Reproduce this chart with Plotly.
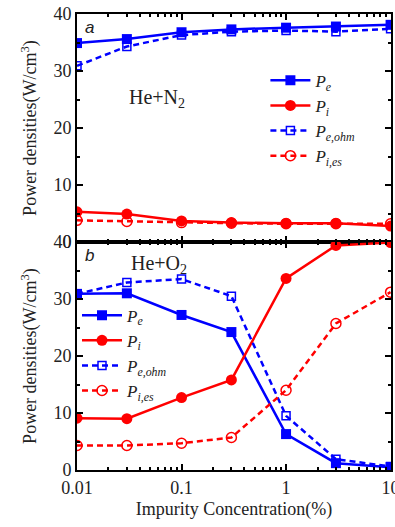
import plotly.graph_objects as go
from plotly.subplots import make_subplots

conc = [0.01, 0.03, 0.1, 0.3, 1, 3, 10]

# Panel a: He+N2
a_Pe = [34.9, 35.6, 36.8, 37.3, 37.6, 37.8, 38.1]
a_Pi = [5.3, 4.9, 3.7, 3.4, 3.3, 3.3, 2.8]
a_Pe_ohm = [30.9, 34.3, 36.3, 36.9, 37.1, 36.9, 37.4]
a_Pi_es = [3.8, 3.6, 3.4, 3.3, 3.2, 3.2, 3.2]

# Panel b: He+O2
b_Pe = [30.9, 31.0, 27.2, 24.2, 6.3, 1.2, 0.5]
b_Pi = [9.1, 9.0, 12.7, 15.8, 33.6, 39.4, 39.9]
b_Pe_ohm = [30.9, 32.9, 33.5, 30.5, 9.5, 1.9, 0.6]
b_Pi_es = [4.3, 4.3, 4.7, 5.7, 14.0, 25.7, 31.2]

x_tickvals = [0.01, 0.1, 1, 10]
x_ticktext = ["0.01", "0.1", "1", "10"]
y_tickvals = [0, 10, 20, 30, 40]

names = ["<i>P</i><sub><i>e</i></sub>", "<i>P</i><sub><i>i</i></sub>",
         "<i>P</i><sub><i>e,ohm</i></sub>", "<i>P</i><sub><i>i,es</i></sub>"]

BLUE = "#0000ff"
RED = "#ff0000"
DASH = "6px,4px"

fig = make_subplots(rows=2, cols=1, shared_xaxes=True, vertical_spacing=0)

def add_panel(row, pe, pi, peo, pie, legend):
    fig.add_trace(go.Scatter(x=conc, y=pe, mode="lines+markers", name=names[0],
                             line=dict(color=BLUE, width=2.5),
                             marker=dict(symbol="square", size=10, color=BLUE),
                             legend=legend), row=row, col=1)
    fig.add_trace(go.Scatter(x=conc, y=pi, mode="lines+markers", name=names[1],
                             line=dict(color=RED, width=2.5),
                             marker=dict(symbol="circle", size=11, color=RED),
                             legend=legend), row=row, col=1)
    fig.add_trace(go.Scatter(x=conc, y=peo, mode="lines+markers", name=names[2],
                             line=dict(color=BLUE, width=2.5, dash=DASH),
                             marker=dict(symbol="square-open", size=8, color=BLUE,
                                         line=dict(width=1.5, color=BLUE)),
                             legend=legend), row=row, col=1)
    fig.add_trace(go.Scatter(x=conc, y=pie, mode="lines+markers", name=names[3],
                             line=dict(color=RED, width=2.5, dash=DASH),
                             marker=dict(symbol="circle-open", size=10, color=RED,
                                         line=dict(width=1.5, color=RED)),
                             legend=legend), row=row, col=1)

add_panel(1, a_Pe, a_Pi, a_Pe_ohm, a_Pi_es, "legend")
add_panel(2, b_Pe, b_Pi, b_Pe_ohm, b_Pi_es, "legend2")

minor_x = [m * 10 ** e for e in (-2, -1, 0) for m in range(2, 10)]

serif = "Liberation Serif"
axis_common = dict(showline=True, linecolor="black", linewidth=2, mirror="ticks",
                   ticks="inside", ticklen=6, tickwidth=1.5, tickcolor="black",
                   showgrid=False, zeroline=False, ticklabeloverflow="allow",
                   automargin=False,
                   tickfont=dict(family=serif, size=18, color="#222"))

for r in (1, 2):
    fig.update_xaxes(type="log", range=[-2, 1.004], tickvals=x_tickvals, ticktext=x_ticktext,
                     minor=dict(tickvals=minor_x, ticks="inside", ticklen=3,
                                tickwidth=1.5, tickcolor="black"),
                     row=r, col=1, **axis_common)
    fig.update_yaxes(range=[0, 40], tickvals=y_tickvals,
                     minor=dict(dtick=5, ticks="inside", ticklen=3, tickwidth=1.5,
                                tickcolor="black"),
                     title=dict(text="Power densities(W/cm<sup>3</sup>)",
                                font=dict(family=serif, size=18, color="#222"),
                                standoff=12),
                     row=r, col=1, **axis_common)

fig.update_xaxes(showticklabels=False, row=1, col=1)
fig.update_xaxes(title=dict(text="Impurity Concentration(%)",
                            font=dict(family=serif, size=18, color="#222"),
                            standoff=6), row=2, col=1)

legend_font = dict(family=serif, size=17, color="#222")
fig.update_layout(
    width=395, height=527,
    margin=dict(l=77, r=4, t=14, b=57),
    plot_bgcolor="white", paper_bgcolor="white",
    legend=dict(x=0.6, y=0.893, xanchor="left", yanchor="top",
                bgcolor="rgba(0,0,0,0)", font=legend_font, tracegroupgap=0,
                itemwidth=40),
    legend2=dict(x=0.0, y=0.378, xanchor="left", yanchor="top",
                 bgcolor="rgba(0,0,0,0)", font=legend_font, tracegroupgap=0,
                 itemwidth=40),
)

fig.add_annotation(x=0.02, y=0.995, xref="paper", yref="paper", text="<i>a</i>",
                   showarrow=False, xanchor="left", yanchor="top",
                   font=dict(family="Liberation Sans", size=17, color="#222"))
fig.add_annotation(x=0.02, y=0.495, xref="paper", yref="paper", text="<i>b</i>",
                   showarrow=False, xanchor="left", yanchor="top",
                   font=dict(family="Liberation Sans", size=17, color="#222"))
fig.add_annotation(x=0.255, y=0.815, xref="paper", yref="paper", text="He+N<sub>2</sub>",
                   showarrow=False, xanchor="center", yanchor="middle",
                   font=dict(family=serif, size=20, color="#222"))
fig.add_annotation(x=0.262, y=0.45, xref="paper", yref="paper", text="He+O<sub>2</sub>",
                   showarrow=False, xanchor="center", yanchor="middle",
                   font=dict(family=serif, size=20, color="#222"))

fig.write_html("out.html")
